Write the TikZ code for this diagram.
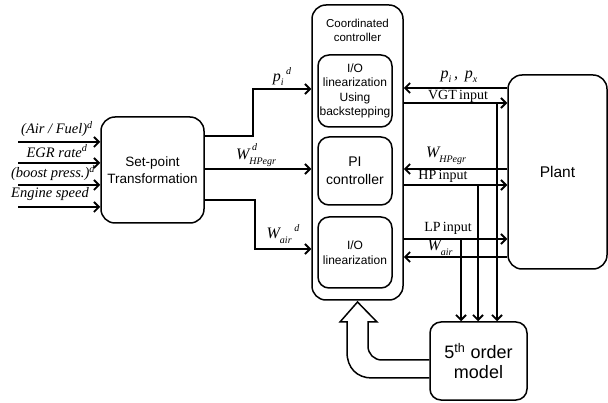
\documentclass[tikz,border=0pt]{standalone}
\usepackage{fontspec}
\setmainfont{Liberation Serif}
\setsansfont{Liberation Sans}
\usetikzlibrary{arrows.meta}
\newcommand{\scr}[1]{{\fontsize{10}{10}\selectfont\itshape #1}}
\tikzset{
  box/.style={draw, line width=1.5pt, rounded corners=14pt, inner sep=0pt, align=center, font=\sffamily},
  ibox/.style={draw, line width=1.5pt, rounded corners=11pt, inner sep=0pt, align=center, font=\sffamily\fontsize{12}{14.5}\selectfont, minimum width=74pt},
  arr/.style={line width=1.8pt, -{Straight Barb[length=5pt,width=10pt]}},
  lab/.style={inner sep=0pt, font=\fontsize{14}{16}\selectfont},
  mlab/.style={inner sep=0pt, font=\itshape\fontsize{16}{16}\selectfont},
  llab/.style={inner sep=0pt, font=\itshape\fontsize{14.5}{16}\selectfont},
}
\begin{document}
\begin{tikzpicture}[x=1pt,y=-1pt]
\useasboundingbox (0,0) rectangle (608,403);
% boxes
\node[box, minimum width=103pt, minimum height=106pt, font=\sffamily\fontsize{13.5}{17}\selectfont] (sp) at (152.5,170) {Set-point\\Transformation};
\node[box, minimum width=91pt, minimum height=295pt] (ctrl) at (357.5,152.5) {};
\node[inner sep=0pt, align=center, font=\sffamily\fontsize{11.5}{14}\selectfont] (ctitle) at (357.5,30) {Coordinated\\controller};
\node[ibox, minimum height=72pt] (io1) at (355,91) {I/O\\linearization\\Using\\backstepping};
\node[ibox, minimum height=68pt, font=\sffamily\fontsize{14}{18}\selectfont] (pi) at (355,171) {PI\\controller};
\node[ibox, minimum height=71pt] (io2) at (355,252.5) {I/O\\linearization};
\node[box, minimum width=99pt, minimum height=194pt, font=\sffamily\fontsize{15.5}{18}\selectfont] (plant) at (557.5,172) {Plant};
\node[box, minimum width=97pt, minimum height=78pt, rounded corners=11pt, font=\sffamily\fontsize{18}{20}\selectfont] (model) at (478.5,361) {5\textsuperscript{th} order\\model};
% inputs
\coordinate (in1) at (18,142);
\coordinate (in2) at (18,163);
\coordinate (in3) at (18,185);
\coordinate (in4) at (18,207);
\draw[arr] (in1) -- (sp.west |- in1);
\draw[arr] (in2) -- (sp.west |- in2);
\draw[arr] (in3) -- (sp.west |- in3);
\draw[arr] (in4) -- (sp.west |- in4);
\node[llab] (l1) at (57,129) {(Air / Fuel)\textsuperscript{d}};
\node[llab] (l2) at (57,151) {EGR rate\textsuperscript{d}};
\node[llab] (l3) at (53,173) {(boost press.)\textsuperscript{d}};
\node[llab] (l4) at (50,194) {Engine speed};
% set-point outputs
\coordinate (b1) at (253,136);
\coordinate (b2) at (253,89);
\coordinate (b3) at (255,200);
\coordinate (b4) at (255,249);
\draw[arr] (sp.east |- b1) -- (b1) -- (b2) -- (ctrl.west |- b2);
\draw[arr] (sp.east |- 0,169) -- (ctrl.west |- 0,169);
\draw[arr] (sp.east |- b3) -- (b3) -- (b4) -- (ctrl.west |- b4);
\node[mlab] (pd) at (282,77) {p\raisebox{-4pt}{\scr{i}}\raisebox{7pt}{\,\scr{d}}};
\node[mlab] (wd) at (256,155) {W\rlap{\raisebox{9pt}{\,\scr{d}}}\raisebox{-5pt}{\scr{HPegr}}};
\node[mlab] (wad) at (283,234) {W\raisebox{-5pt}{\scr{air}}\raisebox{7pt}{\,\scr{d}}};
% controller <-> plant
\draw[arr] (plant.west |- 0,88) -- (ctrl.east |- 0,88);
\draw[arr] (ctrl.east |- 0,103) -- (plant.west |- 0,103);
\draw[arr] (plant.west |- 0,169) -- (ctrl.east |- 0,169);
\draw[arr] (ctrl.east |- 0,185) -- (plant.west |- 0,185);
\draw[arr] (ctrl.east |- 0,239) -- (plant.west |- 0,239);
\draw[arr] (plant.west |- 0,257) -- (ctrl.east |- 0,257);
\node[mlab] (pp) at (459,77) {p\raisebox{-4pt}{\scr{i}}\,,\ \,p\raisebox{-4pt}{\scr{x}}};
\node[lab] (vgt) at (458,96) {VGT\,input};
\node[mlab] (wh) at (446,156) {W\raisebox{-5pt}{\scr{HPegr}}};
\node[lab] (hp) at (443,176) {HP\,input};
\node[lab] (lp) at (448,228) {LP\,input};
\node[mlab] (wa) at (440,248) {W\raisebox{-5pt}{\scr{air}}};
% taps to model
\coordinate (t1) at (497,103);
\coordinate (t2) at (478,185);
\coordinate (t3) at (461,239);
\draw[arr] (t1) -- (t1 |- model.north);
\draw[arr] (t2) -- (t2 |- model.north);
\draw[arr] (t3) -- (t3 |- model.north);
% hollow arrow from model to controller
\draw[line width=1.5pt, line join=miter] (model.west |- 0,378) -- (372,378)
  .. controls (357,378) and (347,368) .. (347,352) -- (347,322) -- (340,322)
  -- (ctrl.south |- 0,302) -- (377,322) -- (368,322) -- (368,346)
  .. controls (368,354) and (374,360) .. (382,360) -- (model.west |- 0,360);
\end{tikzpicture}
\end{document}
